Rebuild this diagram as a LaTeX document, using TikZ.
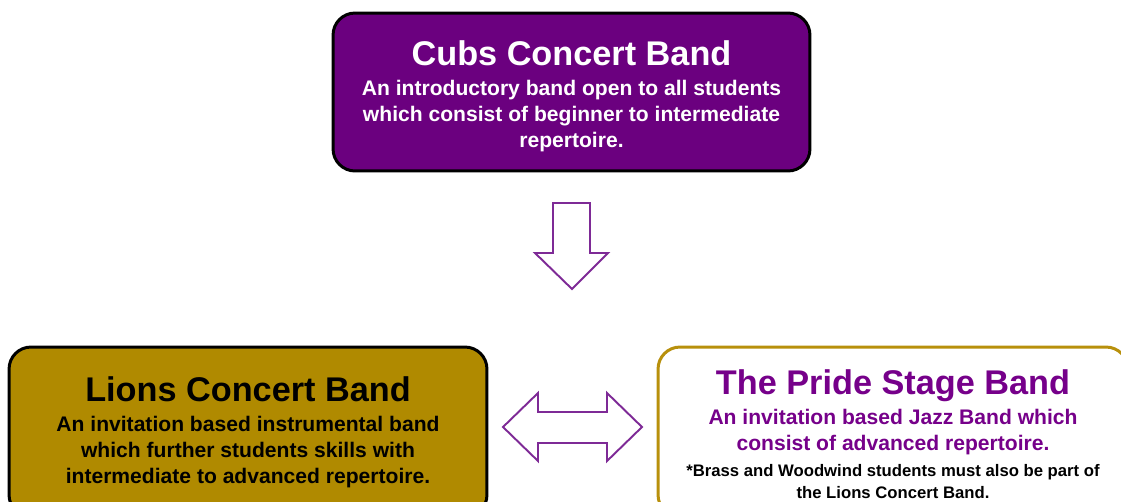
\documentclass[tikz,border=0pt]{standalone}
\usepackage{fontspec}
\setmainfont{Liberation Sans}
\usetikzlibrary{positioning}

\definecolor{cubpurple}{HTML}{6B007F}
\definecolor{liongold}{HTML}{B08A00}
\definecolor{prideedge}{HTML}{B8900C}
\definecolor{pridetext}{HTML}{76008A}
\definecolor{arrowpurple}{HTML}{7E2A96}

\newcommand{\bandname}{\fontsize{19.5}{23}\selectfont}
\newcommand{\bandtext}{\fontsize{12}{14.7}\selectfont}
\newcommand{\bandnote}{\fontsize{9.5}{11.3}\selectfont}

\tikzset{
  bandbox/.style={rounded corners=0.44cm, line width=1.7pt, align=center,
    font=\bfseries\bandtext, inner sep=0pt},
  blockarrow/.style={draw=arrowpurple, fill=white, line width=1.1pt, line join=miter}
}

\begin{document}
\begin{tikzpicture}[x=0.02cm,y=-0.02cm]
        \useasboundingbox (0,0) rectangle (1121,501);
        \clip (0,0) rectangle (1121,501);
        % the three bands
        \node[bandbox, draw=black, fill=cubpurple, text=white,
              minimum width=9.54cm, minimum height=3.16cm] at (571.5,92) (cubs)
              {\rule{0pt}{19pt}{\bandname Cubs Concert Band}\\[2.4pt]
               An introductory band open to all students\\
               which consist of beginner to intermediate\\
               repertoire.};
        \node[bandbox, draw=black, fill=liongold, text=black,
              minimum width=9.56cm, minimum height=3.4cm] at (248,432) (lions)
              {{\bandname Lions Concert Band}\\[2.4pt]
               An invitation based instrumental band\\
               which further students skills with\\
               intermediate to advanced repertoire.};
        \node[bandbox, draw=prideedge, fill=white, text=pridetext,
              minimum width=9.4cm, minimum height=3.4cm] at (893,432) (pride)
              {\rule{0pt}{17pt}{\bandname The Pride Stage Band}\\[2.4pt]
               An invitation based Jazz Band which\\
               consist of advanced repertoire.\\
               {\color{black}\bandnote *Brass and Woodwind students must also be part of}\\[-2pt]
               {\color{black}\bandnote the Lions Concert Band.}};
        % block arrows
        \draw[blockarrow] (553,203) -- (590,203) -- (590,253) -- (608,253)
              -- (572,289) -- (535,253) -- (553,253) -- cycle;
        \draw[blockarrow] (503,427) -- (538,393) -- (538,412) -- (607,412)
              -- (607,393) -- (642,427) -- (607,461) -- (607,443)
              -- (538,443) -- (538,461) -- cycle;
    \end{tikzpicture}
\end{document}
